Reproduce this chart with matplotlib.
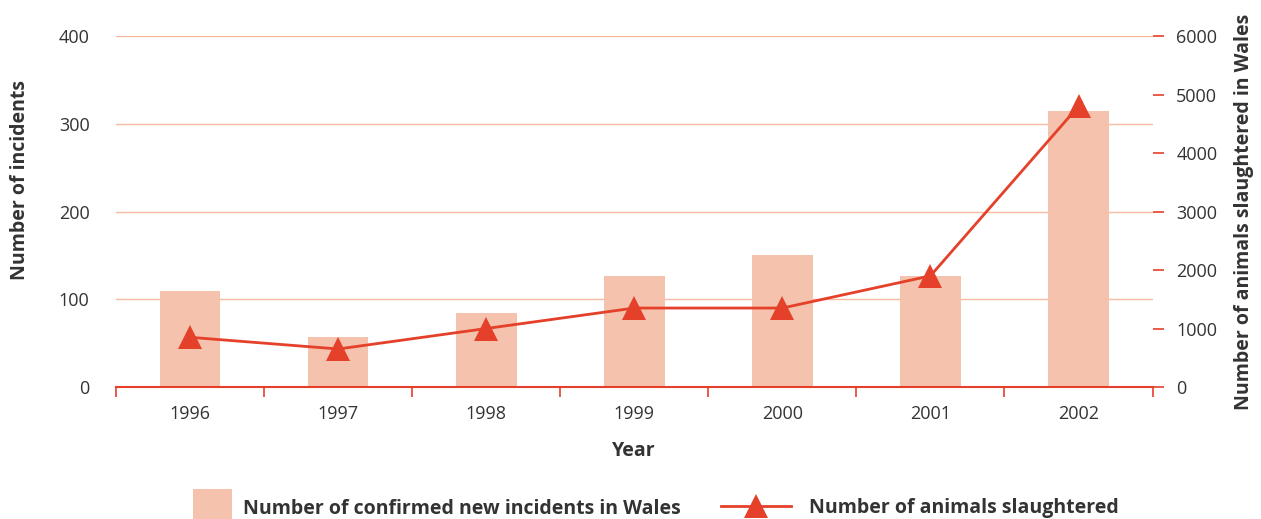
import matplotlib
matplotlib.use("Agg")
import matplotlib.pyplot as plt
from matplotlib.patches import Patch
from matplotlib.lines import Line2D

plt.rcParams['font.family'] = ['Open Sans', 'DejaVu Sans']

# Data
years = ['1996', '1997', '1998', '1999', '2000', '2001', '2002']
incidents = [109, 57, 84, 127, 151, 127, 314]
slaughtered = [850, 650, 1000, 1350, 1350, 1900, 4800]

bar_color = '#F4C2AD'
line_color = '#E4402A'
grid_color = '#F9B8A0'
text_color = '#333333'

fig = plt.figure(figsize=(12.61, 5.19), dpi=100)
ax = fig.add_axes([0.092, 0.2543, 0.822, 0.6763])
x = list(range(len(years)))

# --- Bars (left axis) ---
ax.bar(x, incidents, width=0.41, color=bar_color, zorder=2)
ax.set_ylim(0, 400)
ax.set_xlim(-0.5, len(years) - 0.5)
ax.set_yticks([0, 100, 200, 300, 400])
ax.yaxis.grid(True, color=grid_color, linewidth=1.0, zorder=0)
ax.set_axisbelow(True)
ax.tick_params(axis='y', length=0, pad=19, labelsize=13, labelcolor=text_color)
ax.set_xticks(x)
ax.set_xticklabels(years)
ax.set_xticks([i - 0.5 for i in range(len(years) + 1)], minor=True)
ax.tick_params(axis='x', which='major', length=0, pad=13, labelsize=13, labelcolor=text_color)
ax.tick_params(axis='x', which='minor', length=7, width=1.2, color=line_color)
for s in ['top', 'left', 'right']:
    ax.spines[s].set_visible(False)
ax.spines['bottom'].set_color(line_color)
ax.spines['bottom'].set_linewidth(1.5)
ax.set_ylabel('Number of incidents', fontsize=14, fontweight='bold', color=text_color)
ax.yaxis.set_label_coords(-0.083, 0.59)
ax.set_xlabel('Year', fontsize=14, fontweight='bold', color=text_color, labelpad=13)

# --- Line (right axis) ---
ax2 = ax.twinx()
ax2.plot(x, slaughtered, color=line_color, linewidth=2, marker='^', markersize=17,
         markeredgewidth=0, zorder=3)
ax2.set_ylim(0, 6000)
ax2.set_yticks([0, 1000, 2000, 3000, 4000, 5000, 6000])
ax2.tick_params(axis='y', length=8, width=1.2, color=line_color, pad=9,
                labelsize=13, labelcolor=text_color)
for s in ['top', 'left', 'right', 'bottom']:
    ax2.spines[s].set_visible(False)
ax2.set_ylabel('Number of animals slaughtered in Wales', fontsize=14, fontweight='bold',
               color=text_color, labelpad=12)

# --- Legend ---
h1 = Patch(facecolor=bar_color, edgecolor='none')
h2 = Line2D([], [], color=line_color, linewidth=2, marker='^', markersize=17, markeredgewidth=0)
leg1 = fig.legend([h1], ['Number of confirmed new incidents in Wales'],
                  loc='center left', bbox_to_anchor=(0.139, 0.022), frameon=False,
                  handlelength=2.0, handleheight=2.5, handletextpad=0.6,
                  prop={'size': 14, 'weight': 'bold'})
leg2 = fig.legend([h2], ['Number of animals slaughtered'],
                  loc='center left', bbox_to_anchor=(0.558, 0.022), frameon=False,
                  handlelength=3.6, handletextpad=0.9,
                  prop={'size': 14, 'weight': 'bold'})
for t in leg1.get_texts() + leg2.get_texts():
    t.set_color(text_color)

fig.savefig('out.png', dpi=100)
